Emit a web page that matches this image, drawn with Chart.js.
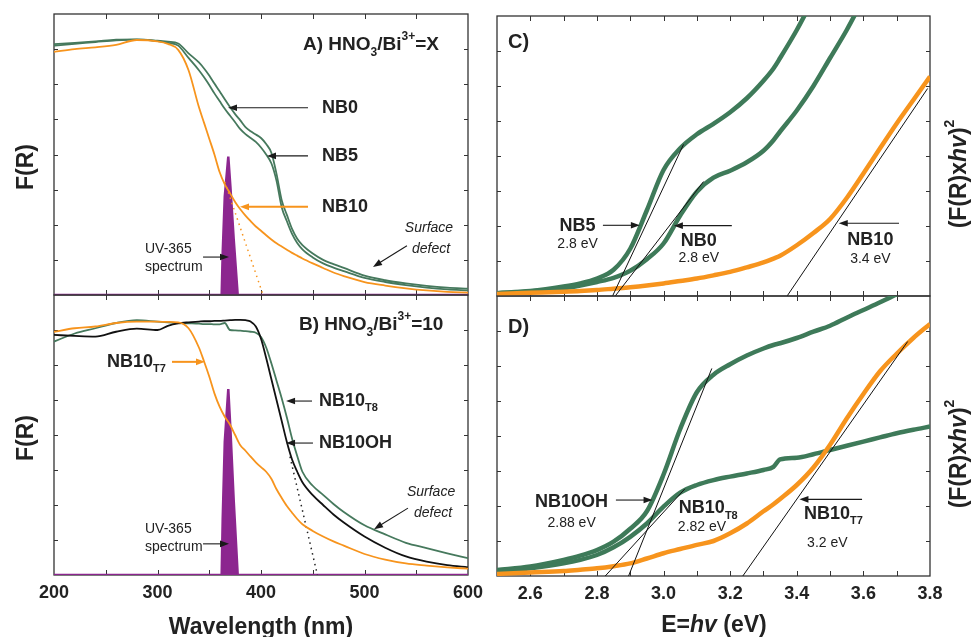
<!DOCTYPE html>
<html lang="en">
<head>
<meta charset="UTF-8">
<title>F(R) spectra and Tauc plots</title>
<style>
  body { margin: 0; background: #fff; }
  .figure { position: relative; width: 972px; height: 637px; }
  .figure canvas { position: absolute; left: 0; top: 0; }
</style>
</head>
<body>
<div class="figure">
  <canvas id="panelA" width="972" height="637"></canvas>
  <canvas id="panelB" width="972" height="637"></canvas>
  <canvas id="panelC" width="972" height="637"></canvas>
  <canvas id="panelD" width="972" height="637"></canvas>
</div>

<script src="https://cdn.jsdelivr.net/npm/chart.js"></script>
<script>
// ---- wavelength panels (A, B) ----
const wavelength = [200, 220, 240, 260, 280, 300, 310, 320, 330, 340, 345, 350, 355, 360, 365, 370, 375, 380, 385, 390,
                    395, 400, 405, 410, 415, 420, 425, 430, 435, 440, 450, 460, 470, 480, 500, 520, 540, 560, 580, 600];

const nb0 = [7.14, 7.18, 7.22, 7.27, 7.28, 7.24, 7.21, 7.16, 6.88, 6.62, 6.45, 6.25, 6.02, 5.8, 5.57, 5.35, 5.15, 4.97, 4.78, 4.66,
             4.57, 4.47, 4.3, 4.05, 3.45, 2.7, 2.28, 1.88, 1.6, 1.42, 1.18, 1.0, 0.88, 0.77, 0.55, 0.42, 0.33, 0.26, 0.21, 0.18];
const nb5 = [7.1, 7.15, 7.2, 7.25, 7.27, 7.23, 7.18, 7.1, 6.75, 6.4, 6.2, 5.98, 5.74, 5.52, 5.3, 5.11, 4.92, 4.72, 4.58, 4.47,
             4.36, 4.2, 4.0, 3.75, 3.25, 2.5, 2.1, 1.74, 1.48, 1.3, 1.07, 0.9, 0.78, 0.68, 0.49, 0.37, 0.28, 0.21, 0.16, 0.13];
const nb10 = [6.92, 7.0, 7.05, 7.12, 7.26, 7.22, 7.15, 6.98, 6.4, 5.35, 4.9, 4.45, 4.0, 3.5, 3.15, 2.9, 2.65, 2.44, 2.26, 2.1,
              1.95, 1.83, 1.7, 1.58, 1.47, 1.38, 1.29, 1.2, 1.12, 1.04, 0.9, 0.77, 0.64, 0.54, 0.37, 0.27, 0.19, 0.13, 0.09, 0.07];

const nb10oh = [6.86, 6.83, 6.81, 6.95, 7.04, 7.0, 7.12, 7.19, 7.22, 7.24, 7.25, 7.25, 7.26, 7.26, 7.27, 7.28, 7.29, 7.29, 7.28, 7.24,
                7.1, 6.75, 6.2, 5.6, 5.0, 4.4, 3.8, 3.3, 2.95, 2.65, 2.28, 2.0, 1.73, 1.5, 1.1, 0.78, 0.53, 0.38, 0.28, 0.22];
const nb10t8 = [6.67, 6.9, 7.05, 7.2, 7.28, 7.24, 7.22, 7.2, 7.19, 7.18, 7.17, 7.17, 7.16, 7.16, 7.2, 7.0, 6.99, 6.98, 6.97, 6.95,
                6.92, 6.8, 6.5, 6.05, 5.55, 5.05, 4.5, 3.9, 3.4, 2.95, 2.55, 2.29, 2.03, 1.8, 1.42, 1.16, 0.92, 0.77, 0.62, 0.48];
const nb10t7 = [6.95, 7.05, 7.1, 7.2, 7.24, 7.24, 7.23, 7.22, 7.05, 6.5, 6.1, 5.67, 5.19, 4.81, 4.52, 4.3, 4.0, 3.71, 3.55, 3.38,
                3.22, 3.08, 2.95, 2.75, 2.45, 2.2, 1.97, 1.78, 1.6, 1.45, 1.26, 1.1, 0.96, 0.84, 0.6, 0.44, 0.33, 0.27, 0.22, 0.18];

// UV-365 lamp spectrum (same wavelengths for both panels)
const uvWl = [200, 362, 363, 365, 368.4, 370.4, 373.6, 377.5, 600];
const uvA  = [0, 0, 1.2, 2.8, 3.94, 3.1, 1.6, 0, 0];
const uvB  = [0, 0, 1.6, 3.8, 5.31, 4.2, 2.15, 0, 0];

// dotted band-edge extrapolations
const edgeAWl = [365, 402], edgeA = [3.22, 0];
const edgeBWl = [428, 454.5], edgeB = [3.38, 0];

// ---- Tauc panels (C, D) ----
const energy = [2.5, 2.6, 2.7, 2.75, 2.8, 2.85, 2.9, 2.95, 3.0, 3.05, 3.1, 3.15, 3.2, 3.25, 3.3, 3.33, 3.35, 3.4, 3.45, 3.5,
                3.55, 3.6, 3.65, 3.7, 3.75, 3.8];

const taucNb5 = [0.08, 0.14, 0.27, 0.36, 0.5, 0.75, 1.35, 2.45, 3.6, 4.22, 4.62, 4.92, 5.25, 5.65, 6.15, 6.5, 6.8, 7.6, 8.5, null,
                 null, null, null, null, null, null];
const taucNb0 = [0.08, 0.13, 0.22, 0.3, 0.4, 0.52, 0.72, 1.05, 1.5, 2.3, 2.98, 3.38, 3.58, 3.82, 4.15, 4.45, 4.7, 5.3, 6.0, 6.8,
                 7.6, 8.5, null, null, null, null];
const taucNb10 = [0.06, 0.09, 0.12, 0.14, 0.17, 0.21, 0.25, 0.3, 0.36, 0.43, 0.5, 0.59, 0.69, 0.82, 0.96, 1.07, 1.15, 1.45, 1.8, 2.2,
                  2.8, 3.5, 4.22, 4.93, 5.6, 6.27];

const taucOh = [0.17, 0.27, 0.46, 0.58, 0.74, 0.98, 1.35, 1.85, 2.9, 4.2, 5.25, 5.75, 6.05, 6.3, 6.5, 6.6, 6.65, 6.8, 6.98, 7.15,
                7.38, 7.6, 7.82, 8.05, 8.3, null];
const taucT8 = [0.12, 0.22, 0.36, 0.46, 0.6, 0.82, 1.12, 1.5, 1.98, 2.38, 2.6, 2.74, 2.84, 2.93, 3.03, 3.12, 3.33, 3.38, 3.48, 3.6,
                3.72, 3.84, 3.96, 4.08, 4.18, 4.27];
const taucT7 = [0.06, 0.1, 0.14, 0.18, 0.22, 0.28, 0.36, 0.5, 0.65, 0.77, 0.89, 1.0, 1.22, 1.5, 1.85, 2.05, 2.2, 2.6, 3.1, 3.75,
                4.5, 5.2, 5.85, 6.35, 6.8, 7.2];

// linear fits (start at the x axis)
const fitNb5 = { e: [2.847, 3.06], v: [0, 4.33] };
const fitNb0 = { e: [2.855, 3.12], v: [0, 3.27] };
const fitNb10 = { e: [3.371, 3.793], v: [0, 5.93] };
const fitOh = { e: [2.895, 3.145], v: [0, 5.93] };
const fitT8 = { e: [2.825, 3.064], v: [0, 2.49] };
const fitT7 = { e: [3.238, 3.733], v: [0, 6.7] };

// ticks
const wlLabels = [200, 300, 400, 500, 600];
const wlMinor = [250, 300, 350, 400, 450, 500, 550];
const eLabels = [2.6, 2.8, 3.0, 3.2, 3.4, 3.6, 3.8];
const eMinor = [2.6, 2.7, 2.8, 2.9, 3.0, 3.1, 3.2, 3.3, 3.4, 3.5, 3.6, 3.7];
const yMinor = [1, 2, 3, 4, 5, 6, 7];

const GREEN = '#46795d';
const GREEN2 = '#3e7a59';
const ORANGE = '#f7941d';
const PURPLE = '#8c268f';
const INK = '#1a1a1a';
const FONT = 'Arial, "Liberation Sans", Helvetica, sans-serif';

Chart.defaults.font.family = FONT;

// text and arrows for each panel (x in axis units, y in F(R) units)
const notes = {
    panelA: {
        texts: [
            { x: 440.6, y: 7.12, size: 19, parts: [['A) HNO', 'b'], ['3', 'sub'], ['/Bi', 'b'], ['3+', 'sup'], ['=X', 'b']] },
            { x: 458.9, y: 5.33, size: 18, parts: [['NB0', 'b']] },
            { x: 458.9, y: 3.96, size: 18, parts: [['NB5', 'b']] },
            { x: 458.9, y: 2.51, size: 18, parts: [['NB10', 'b']] },
            { x: 287.9, y: 1.31, size: 14, parts: [['UV-365', 'r']] },
            { x: 287.9, y: 0.8, size: 14, parts: [['spectrum', 'r']] },
            { x: 539, y: 1.91, size: 14, parts: [['Surface', 'ri']] },
            { x: 545.9, y: 1.31, size: 14, parts: [['defect', 'ri']] }
        ],
        arrows: [
            { x1: 445.4, y1: 5.33, x2: 368.1, y2: 5.33 },
            { x1: 445.4, y1: 3.96, x2: 405.8, y2: 3.96 },
            { x1: 445.4, y1: 2.51, x2: 379.7, y2: 2.51, color: ORANGE, w: 2 },
            { x1: 344, y1: 1.08, x2: 369.1, y2: 1.08 },
            { x1: 541, y1: 1.4, x2: 508.2, y2: 0.8 }
        ],
        titles: [
            { px: 27, py: 167, rotate: true, size: 23, parts: [['F(R)', 'b']] }
        ]
    },
    panelB: {
        texts: [
            { x: 436.7, y: 7.14, size: 19, parts: [['B) HNO', 'b'], ['3', 'sub'], ['/Bi', 'b'], ['3+', 'sup'], ['=10', 'b']] },
            { x: 251.2, y: 6.09, size: 18, parts: [['NB10', 'b'], ['T7', 'sub']] },
            { x: 456, y: 4.97, size: 18, parts: [['NB10', 'b'], ['T8', 'sub']] },
            { x: 456, y: 3.77, size: 18, parts: [['NB10OH', 'b']] },
            { x: 541, y: 2.37, size: 14, parts: [['Surface', 'ri']] },
            { x: 547.8, y: 1.77, size: 14, parts: [['defect', 'ri']] },
            { x: 287.9, y: 1.31, size: 14, parts: [['UV-365', 'r']] },
            { x: 287.9, y: 0.8, size: 14, parts: [['spectrum', 'r']] }
        ],
        arrows: [
            { x1: 314, y1: 6.09, x2: 345.9, y2: 6.09, color: ORANGE, w: 2 },
            { x1: 449.3, y1: 4.97, x2: 424.2, y2: 4.97 },
            { x1: 450.2, y1: 3.77, x2: 424.2, y2: 3.77 },
            { x1: 542, y1: 1.91, x2: 509.2, y2: 1.31 },
            { x1: 344, y1: 0.89, x2: 369.1, y2: 0.89 }
        ],
        titles: [
            { px: 27, py: 438, rotate: true, size: 23, parts: [['F(R)', 'b']] },
            { px: 261, py: 628, size: 23, parts: [['Wavelength (nm)', 'b']] }
        ]
    },
    panelC: {
        texts: [
            { x: 2.533, y: 7.23, size: 20, parts: [['C)', 'b']] },
            { x: 2.742, y: 2.01, size: 18, align: 'center', parts: [['NB5', 'b']] },
            { x: 2.742, y: 1.49, size: 14, align: 'center', parts: [['2.8 eV', 'r']] },
            { x: 3.106, y: 1.58, size: 18, align: 'center', parts: [['NB0', 'b']] },
            { x: 3.106, y: 1.08, size: 14, align: 'center', parts: [['2.8 eV', 'r']] },
            { x: 3.621, y: 1.6, size: 18, align: 'center', parts: [['NB10', 'b']] },
            { x: 3.621, y: 1.06, size: 14, align: 'center', parts: [['3.4 eV', 'r']] }
        ],
        arrows: [
            { x1: 2.818, y1: 2.02, x2: 2.929, y2: 2.02 },
            { x1: 3.205, y1: 2.01, x2: 3.031, y2: 2.01 },
            { x1: 3.707, y1: 2.08, x2: 3.526, y2: 2.08 }
        ],
        titles: [
            { px: 960, py: 174, rotate: true, size: 23, parts: [['(F(R)x', 'b'], ['hv', 'bi'], [')', 'b'], ['2', 'sup']] }
        ]
    },
    panelD: {
        texts: [
            { x: 2.533, y: 7.1, size: 20, parts: [['D)', 'b']] },
            { x: 2.724, y: 2.12, size: 18, align: 'center', parts: [['NB10OH', 'b']] },
            { x: 2.724, y: 1.51, size: 14, align: 'center', parts: [['2.88 eV', 'r']] },
            { x: 3.046, y: 1.93, size: 18, parts: [['NB10', 'b'], ['T8', 'sub']] },
            { x: 3.043, y: 1.39, size: 14, parts: [['2.82 eV', 'r']] },
            { x: 3.422, y: 1.77, size: 18, parts: [['NB10', 'b'], ['T7', 'sub']] },
            { x: 3.431, y: 0.93, size: 14, parts: [['3.2 eV', 'r']] }
        ],
        arrows: [
            { x1: 2.857, y1: 2.17, x2: 2.967, y2: 2.17 },
            { x1: 3.596, y1: 2.19, x2: 3.408, y2: 2.19 }
        ],
        titles: [
            { px: 960, py: 454, rotate: true, size: 23, parts: [['(F(R)x', 'b'], ['hv', 'bi'], [')', 'b'], ['2', 'sup']] },
            { px: 714, py: 626, size: 23, parts: [['E=', 'b'], ['hv', 'bi'], [' (eV)', 'b']] }
        ]
    }
};

function partFont(kind, size) {
    if (kind === 'sub' || kind === 'sup') return `bold ${Math.round(size * 0.62)}px ${FONT}`;
    if (kind === 'bi') return `italic bold ${size}px ${FONT}`;
    if (kind === 'r') return `${size}px ${FONT}`;
    if (kind === 'ri') return `italic ${size}px ${FONT}`;
    return `bold ${size}px ${FONT}`;
}

function drawRich(ctx, parts, x, y, size, align, color) {
    let total = 0;
    const widths = parts.map(([t, k]) => {
        ctx.font = partFont(k, size);
        const w = ctx.measureText(t).width;
        total += w;
        return w;
    });
    let cx = align === 'center' ? x - total / 2 : x;
    ctx.fillStyle = color || INK;
    ctx.textBaseline = 'middle';
    ctx.textAlign = 'left';
    parts.forEach(([t, k], i) => {
        ctx.font = partFont(k, size);
        let dy = 0;
        if (k === 'sub') dy = size * 0.4;
        if (k === 'sup') dy = -size * 0.42;
        ctx.fillText(t, cx, y + dy);
        cx += widths[i];
    });
}

function drawArrow(ctx, x1, y1, x2, y2, color, w) {
    const ang = Math.atan2(y2 - y1, x2 - x1);
    const len = 9, half = 3.3;
    ctx.strokeStyle = color;
    ctx.fillStyle = color;
    ctx.lineWidth = w || 1.1;
    ctx.beginPath();
    ctx.moveTo(x1, y1);
    ctx.lineTo(x2 - Math.cos(ang) * len * 0.7, y2 - Math.sin(ang) * len * 0.7);
    ctx.stroke();
    ctx.beginPath();
    ctx.moveTo(x2, y2);
    ctx.lineTo(x2 - len * Math.cos(ang) + half * Math.sin(ang), y2 - len * Math.sin(ang) - half * Math.cos(ang));
    ctx.lineTo(x2 - len * Math.cos(ang) - half * Math.sin(ang), y2 - len * Math.sin(ang) + half * Math.cos(ang));
    ctx.closePath();
    ctx.fill();
}

// frame with inward ticks, plus the panel annotations
const decor = {
    id: 'decor',
    beforeDatasetsDraw(chart) {
        const { ctx, chartArea: a, scales: { x, y } } = chart;
        const isWl = x.max > 100;
        const minor = isWl ? wlMinor : eMinor;
        ctx.save();
        ctx.strokeStyle = '#333';
        ctx.lineWidth = 1.3;
        ctx.strokeRect(a.left, a.top, a.width, a.height);
        ctx.lineWidth = 1;
        ctx.beginPath();
        minor.forEach(v => {
            const px = Math.round(x.getPixelForValue(v)) + 0.5;
            ctx.moveTo(px, a.bottom); ctx.lineTo(px, a.bottom - 5);
            ctx.moveTo(px, a.top); ctx.lineTo(px, a.top + 5);
        });
        yMinor.forEach(v => {
            const py = Math.round(y.getPixelForValue(v)) + 0.5;
            ctx.moveTo(a.left, py); ctx.lineTo(a.left + 4, py);
            ctx.moveTo(a.right, py); ctx.lineTo(a.right - 4, py);
        });
        ctx.stroke();
        ctx.restore();
    },
    afterDraw(chart) {
        const { ctx, scales: { x, y } } = chart;
        const n = notes[chart.canvas.id];
        ctx.save();
        n.arrows.forEach(ar => {
            drawArrow(ctx, x.getPixelForValue(ar.x1), y.getPixelForValue(ar.y1),
                x.getPixelForValue(ar.x2), y.getPixelForValue(ar.y2), ar.color || INK, ar.w);
        });
        n.texts.forEach(t => {
            drawRich(ctx, t.parts, x.getPixelForValue(t.x), y.getPixelForValue(t.y), t.size, t.align || 'left', '#222');
        });
        n.titles.forEach(t => {
            ctx.save();
            ctx.translate(t.px, t.py);
            if (t.rotate) ctx.rotate(-Math.PI / 2);
            drawRich(ctx, t.parts, 0, 0, t.size, 'center', '#222');
            ctx.restore();
        });
        ctx.restore();
    }
};

function series(xs, ys, color, width, extra) {
    return Object.assign({
        data: xs.map((v, i) => ({ x: v, y: ys[i] })),
        borderColor: color,
        borderWidth: width,
        pointRadius: 0,
        fill: false,
        cubicInterpolationMode: 'monotone'
    }, extra || {});
}

function makePanel(id, datasets, xRange, showTicks, padding) {
    const isWl = xRange[1] > 100;
    return new Chart(document.getElementById(id), {
        type: 'line',
        data: { datasets },
        options: {
            responsive: false,
            animation: false,
            devicePixelRatio: 1,
            events: [],
            layout: { padding },
            plugins: { legend: { display: false }, tooltip: { enabled: false } },
            scales: {
                x: {
                    type: 'linear',
                    min: xRange[0],
                    max: xRange[1],
                    display: showTicks,
                    grid: { display: false, drawTicks: false },
                    border: { display: false },
                    afterBuildTicks: s => { s.ticks = (isWl ? wlLabels : eLabels).map(v => ({ value: v })); },
                    afterFit: s => { s.height = showTicks ? 40 : 0; },
                    ticks: {
                        padding: 7,
                        color: '#222',
                        font: { size: 18, weight: 'bold' },
                        maxRotation: 0,
                        autoSkip: false,
                        callback: v => isWl ? String(v) : v.toFixed(1)
                    }
                },
                y: { type: 'linear', min: 0, max: 8, display: false }
            }
        },
        plugins: [decor]
    });
}

const dotted = { borderDash: [1.5, 4], cubicInterpolationMode: 'default', tension: 0 };
const fitStyle = { cubicInterpolationMode: 'default', tension: 0 };
const uvStyle = { fill: 'origin', backgroundColor: PURPLE, cubicInterpolationMode: 'default', tension: 0 };

makePanel('panelA', [
    series(wavelength, nb10, ORANGE, 1.8),
    series(wavelength, nb5, GREEN, 1.8),
    series(wavelength, nb0, GREEN, 1.8),
    series(edgeAWl, edgeA, ORANGE, 1.5, dotted),
    series(uvWl, uvA, PURPLE, 2.5, uvStyle)
], [200, 600], false, { left: 54, right: 504, top: 14, bottom: 342 });

makePanel('panelB', [
    series(wavelength, nb10t7, ORANGE, 1.8),
    series(wavelength, nb10oh, '#111', 1.8),
    series(wavelength, nb10t8, GREEN, 1.8),
    series(edgeBWl, edgeB, '#222', 1.5, dotted),
    series(uvWl, uvB, PURPLE, 2.5, uvStyle)
], [200, 600], true, { left: 54, right: 504, top: 295, bottom: 22 });

makePanel('panelC', [
    series(fitNb5.e, fitNb5.v, '#111', 1, fitStyle),
    series(fitNb0.e, fitNb0.v, '#111', 1, fitStyle),
    series(fitNb10.e, fitNb10.v, '#111', 1, fitStyle),
    series(energy, taucNb10, ORANGE, 4.5),
    series(energy, taucNb0, GREEN2, 4.5),
    series(energy, taucNb5, GREEN2, 4.5)
], [2.5, 3.8], false, { left: 497, right: 42, top: 16, bottom: 341 });

makePanel('panelD', [
    series(fitOh.e, fitOh.v, '#111', 1, fitStyle),
    series(fitT8.e, fitT8.v, '#111', 1, fitStyle),
    series(fitT7.e, fitT7.v, '#111', 1, fitStyle),
    series(energy, taucT7, ORANGE, 4.5),
    series(energy, taucT8, GREEN2, 4.5),
    series(energy, taucOh, GREEN2, 4.5)
], [2.5, 3.8], true, { left: 497, right: 42, top: 296, bottom: 21 });
</script>
</body>
</html>
